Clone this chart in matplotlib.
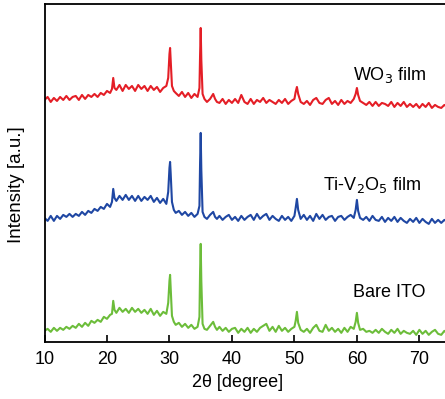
import numpy as np
import matplotlib
matplotlib.use('Agg')
import matplotlib.pyplot as plt

plt.rcParams['font.family'] = ['Liberation Sans', 'DejaVu Sans']

# 2theta sampling (denser around the peaks)
two_theta = [
    10.0, 10.5, 11.0, 11.5, 12.0, 12.5, 13.0, 13.5, 14.0, 14.5,
    15.0, 15.5, 16.0, 16.5, 17.0, 17.5, 18.0, 18.5, 19.0, 19.5, 20.0, 20.5,
    20.8, 21.0, 21.2, 21.5, 22.0, 22.5, 23.0, 23.5, 24.0, 24.5,
    25.0, 25.5, 26.0, 26.5, 27.0, 27.5, 28.0, 28.5, 29.0, 29.5,
    29.8, 30.0, 30.1, 30.2, 30.4, 30.7, 31.0, 31.5, 32.0, 32.5,
    33.0, 33.5, 34.0, 34.5, 34.8, 34.9, 35.0, 35.1, 35.3, 35.6,
    36.0, 36.5, 37.0, 37.3, 37.6, 38.0, 38.5, 39.0, 39.5, 40.0,
    40.5, 41.0, 41.5, 42.0, 42.5, 43.0, 43.5, 44.0, 44.5, 45.0,
    45.5, 46.0, 46.5, 47.0, 47.5, 48.0, 48.5, 49.0, 49.5, 50.0,
    50.2, 50.4, 50.6, 51.0, 51.5, 52.0, 52.5, 53.0, 53.5, 54.0,
    54.5, 55.0, 55.5, 56.0, 56.5, 57.0, 57.5, 58.0, 58.5, 59.0,
    59.5, 59.8, 60.0, 60.2, 60.5, 61.0, 61.5, 62.0, 62.5, 63.0,
    63.5, 64.0, 64.5, 65.0, 65.5, 66.0, 66.5, 67.0, 67.5, 68.0,
    68.5, 69.0, 69.5, 70.0, 70.5, 71.0, 71.5, 72.0, 72.5, 73.0,
    73.5, 74.0, 74.5,
]

# WO3 film (relative intensity)
wo3 = [
    0, 3, -2, 2, -1, 3, 0, 4, 0, 3,
    4, 0, 5, 1, 5, 3, 6, 3, 7, 5, 9, 7,
    11, 22, 12, 10, 15, 9, 15, 11, 14, 9,
    15, 11, 14, 9, 14, 10, 13, 8, 12, 14,
    22, 46, 52, 40, 14, 9, 7, 4, 8, 3,
    7, 2, 6, 3, 12, 45, 72, 40, 6, 1,
    -2, 1, 6, 1, -2, -3, 1, -4, 0, -3,
    1, -3, 5, -2, -4, 1, -4, 0, -2, 2,
    -3, 0, -2, -4, 0, -3, 1, -4, -1, 1,
    8, 13, 6, -2, -4, -1, -5, 0, 2, -3,
    -4, 0, 2, -4, -1, -5, 0, -4, -1, -3,
    1, 6, 12, 5, -1, -3, -5, -2, -6, -2,
    -6, -3, -4, -6, -2, -7, -3, -6, -2, -7,
    -4, -7, -4, -8, -4, -7, -3, -8, -5, -7,
    -8, -5, -7,
]

# Ti-V2O5 film
tiv2o5 = [
    0, -3, 2, -3, 2, -1, 3, 1, 4, 1,
    4, 2, 6, 3, 7, 5, 9, 7, 11, 9, 14, 11,
    16, 29, 20, 17, 22, 18, 23, 18, 22, 17,
    22, 17, 21, 18, 22, 16, 20, 15, 19, 14,
    26, 50, 56, 44, 16, 8, 5, 7, 3, 6,
    2, 5, 1, 4, 12, 55, 85, 48, 6, 1,
    -1, 3, 6, 1, -1, 2, -2, 1, 3, -2,
    1, -3, 2, -2, 1, 3, -2, 4, -1, 2,
    4, -2, 2, -1, -3, 2, -2, 1, -3, 2,
    10, 19, 8, -1, 3, -2, 2, -3, 4, -1,
    3, -2, 1, 2, -3, 1, 2, -2, 1, 3,
    0, 8, 18, 7, 0, -2, 1, -3, 2, -2,
    -3, 1, -4, 0, -3, 1, -4, 0, -3, -5,
    -1, -4, 0, -5, -1, -4, -6, -1, -5, -2,
    -5, -2, -4,
]

# Bare ITO
ito = [
    0, 2, -1, 3, 0, 3, 1, 4, 2, 5,
    3, 7, 4, 8, 5, 10, 8, 11, 9, 14, 12, 16,
    17, 30, 21, 18, 23, 19, 22, 18, 23, 19,
    22, 18, 21, 17, 22, 16, 20, 15, 19, 17,
    28, 50, 56, 42, 15, 9, 6, 8, 4, 7,
    3, 6, 2, 4, 14, 60, 87, 50, 7, 2,
    1, 5, 9, 4, 1, 4, 0, 3, -1, 2,
    3, -2, 2, -1, 3, -2, 2, -1, 3, 5,
    7, 0, 4, -1, 5, 0, 3, -1, 2, 4,
    10, 19, 8, 1, -1, 2, -2, 3, 6, 0,
    -1, 6, 0, 3, -1, 2, -2, 3, -1, 4,
    2, 9, 18, 8, 1, 2, -1, 0, -2, 1,
    -2, 2, -1, -3, 1, -2, 2, -3, 0, -2,
    -3, 0, -4, 1, -3, 0, -4, -1, 1, -3,
    -4, 0, -3,
]

labels = ['WO$_3$ film', 'Ti-V$_2$O$_5$ film', 'Bare ITO']
offsets = [242.5, 124.5, 11.5]
colors = ['#e41e26', '#1f47a3', '#6cbd3a']
label_pos = [(71.2, 267.5), (70.3, 157.5), (70.9, 50.0)]

x = np.array(two_theta)
series = [np.array(wo3), np.array(tiv2o5), np.array(ito)]

fig = plt.figure(figsize=(4.45, 3.99), dpi=100)
ax = fig.add_axes([0.1, 0.142, 0.9, 0.848])

for y, off, c in zip(series, offsets, colors):
    ax.plot(x, y + off, color=c, lw=1.5)

# labels next to each curve
for lab, (tx, ty) in zip(labels, label_pos):
    ax.text(tx, ty, lab, fontsize=13, color='black', ha='right', va='center')

ax.set_xlim(10, 74.1)
ax.set_ylim(0, 338.5)
ax.set_xticks([10, 20, 30, 40, 50, 60, 70])
ax.set_yticks([])
ax.tick_params(axis='x', direction='in', length=5, width=1.2, labelsize=13, pad=6.5)
ax.spines['right'].set_visible(False)
for s in ['left', 'top', 'bottom']:
    ax.spines[s].set_linewidth(1.3)

ax.set_xlabel('2\u03b8 [degree]', fontsize=13)
ax.xaxis.set_label_coords(0.483, -0.094)
ax.set_ylabel('Intensity [a.u.]', fontsize=13.5)
ax.yaxis.set_label_coords(-0.049, 0.465)

fig.savefig('out.png', dpi=100)
